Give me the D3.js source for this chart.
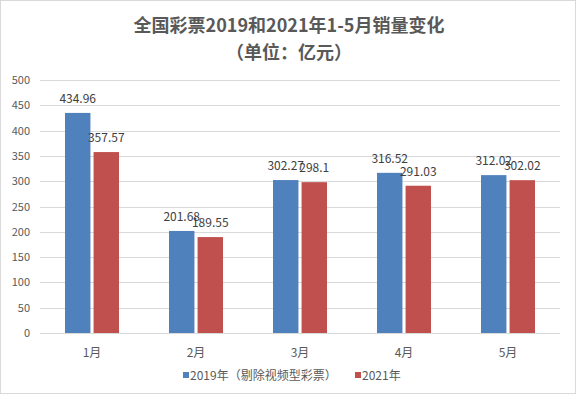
<!DOCTYPE html>
<html lang="zh">
<head>
<meta charset="UTF-8" />
<title>全国彩票销量</title>
<script src="https://cdn.jsdelivr.net/npm/d3@7"></script>
<style>
  body { margin: 0; background: #fff; }
  svg { display: block; font-family: "Noto Sans CJK SC", "Noto Sans", sans-serif; }
</style>
</head>
<body>
<svg width="577" height="395"></svg>
<script>
const months = ["1月", "2月", "3月", "4月", "5月"];
const sales2019 = [434.96, 201.68, 302.27, 316.52, 312.02];
const sales2021 = [357.57, 189.55, 298.1, 291.03, 302.02];
const yTicks = [0, 50, 100, 150, 200, 250, 300, 350, 400, 450, 500];
const seriesNames = ["2019年（剔除视频型彩票）", "2021年"];
const colors = ["#4f81bd", "#c0504d"];

const svg = d3.select("svg");
const plotLeft = 40, plotRight = 560, plotTop = 80, plotBottom = 333;

// outer border
svg.append("rect")
  .attr("x", 0.5).attr("y", 0.5)
  .attr("width", 575).attr("height", 393)
  .attr("fill", "none").attr("stroke", "#d9d9d9");

// title
svg.append("text")
  .attr("x", 289).attr("y", 32)
  .attr("text-anchor", "middle")
  .attr("font-size", 18).attr("font-weight", "bold")
  .attr("fill", "#595959")
  .text("全国彩票2019和2021年1-5月销量变化");
svg.append("text")
  .attr("x", 289).attr("y", 59)
  .attr("text-anchor", "middle")
  .attr("font-size", 18).attr("font-weight", "bold")
  .attr("fill", "#595959")
  .text("（单位：亿元）");

const y = d3.scaleLinear().domain([0, 500]).range([plotBottom, plotTop]);
const x = d3.scaleBand().domain(months).range([plotLeft, plotRight]);
const inner = d3.scaleBand().domain([0, 1]).range([25, 79]).paddingInner(0.11);

// grid
svg.append("g").selectAll("line")
  .data(yTicks)
  .join("line")
  .attr("x1", plotLeft).attr("x2", plotRight)
  .attr("y1", d => Math.round(y(d)) + 0.5).attr("y2", d => Math.round(y(d)) + 0.5)
  .attr("stroke", "#d9d9d9");

// y tick labels
svg.append("g").selectAll("text")
  .data(yTicks)
  .join("text")
  .attr("x", 30).attr("y", d => y(d) + 4)
  .attr("text-anchor", "end")
  .attr("font-size", 11).attr("fill", "#595959")
  .text(d => d);

// x labels
svg.append("g").selectAll("text")
  .data(months)
  .join("text")
  .attr("x", d => x(d) + x.bandwidth() / 2).attr("y", 357)
  .attr("text-anchor", "middle")
  .attr("font-size", 12).attr("fill", "#595959")
  .text(d => d);

const series = [sales2019, sales2021];
series.forEach((vals, si) => {
  const g = svg.append("g");
  g.selectAll("rect")
    .data(vals)
    .join("rect")
    .attr("x", (d, i) => x(months[i]) + inner(si))
    .attr("y", d => y(d))
    .attr("width", inner.bandwidth())
    .attr("height", d => plotBottom - y(d))
    .attr("fill", colors[si]);
  g.selectAll("text")
    .data(vals)
    .join("text")
    .attr("x", (d, i) => x(months[i]) + inner(si) + inner.bandwidth() / 2)
    .attr("y", d => y(d) - 10)
    .attr("text-anchor", "middle")
    .attr("font-size", 12).attr("fill", "#404040")
    .text(d => d);
});

// legend
const legendX = [183, 355];
seriesNames.forEach((name, i) => {
  svg.append("rect")
    .attr("x", legendX[i]).attr("y", 372)
    .attr("width", 6).attr("height", 6)
    .attr("fill", colors[i]);
  svg.append("text")
    .attr("x", legendX[i] + 7).attr("y", 380)
    .attr("font-size", 12).attr("fill", "#595959")
    .text(name);
});
</script>
</body>
</html>
